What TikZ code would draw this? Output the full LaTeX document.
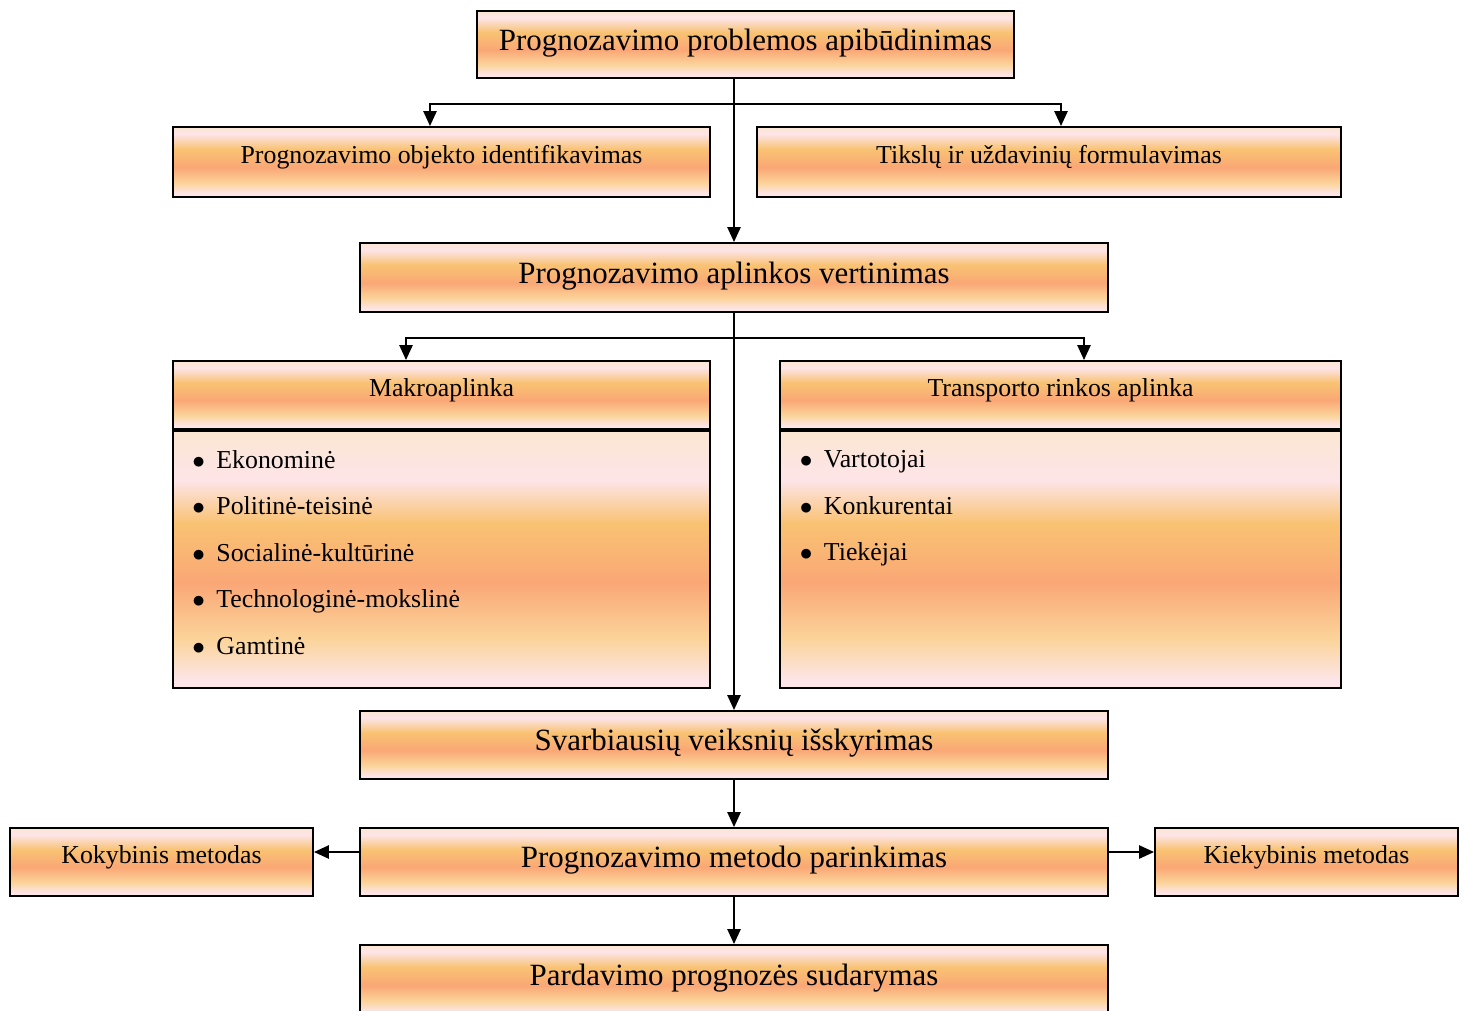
\documentclass[tikz,border=0pt]{standalone}
\usepackage{fontspec}
\setmainfont{Liberation Serif}
\usetikzlibrary{arrows.meta}
\definecolor{shpeach}{HTML}{FBE6D2}
\definecolor{shpink}{HTML}{FDE5E8}
\definecolor{shgold}{HTML}{F9C272}
\definecolor{shsalmon}{HTML}{FAA776}
\definecolor{shlight}{HTML}{FBD49A}
\pgfdeclareverticalshading{boxshade}{100bp}{color(0bp)=(shpink); color(27.5bp)=(shpink); color(35bp)=(shlight); color(46bp)=(shsalmon); color(59bp)=(shgold); color(70bp)=(shpink); color(75bp)=(shpeach); color(100bp)=(shpeach)}
\pgfdeclareverticalshading{listshade}{100bp}{color(0bp)=(shpink); color(26.5bp)=(shpink); color(34.5bp)=(shlight); color(45.5bp)=(shsalmon); color(57bp)=(shgold); color(65.5bp)=(shpink); color(75bp)=(shpeach); color(100bp)=(shpeach)}
\tikzstyle{block}=[draw=black, line width=1.1pt, shade, shading=boxshade, inner sep=0pt]
\tikzstyle{bigblock}=[block, font=\fontsize{17.6}{21}\selectfont, text height=12pt, text depth=5.6pt]
\tikzstyle{smallblock}=[block, font=\fontsize{14.7}{18}\selectfont, text height=10pt, text depth=8pt]
\tikzstyle{listblock}=[draw=black, line width=1.1pt, shade, shading=listshade, inner sep=0pt]
\tikzstyle{items}=[align=left, anchor=north west, inner sep=0pt, font=\fontsize{14.7}{26.5}\selectfont]
\tikzstyle{line}=[draw=black, line width=1.1pt]
\tikzstyle{link}=[line, -{Triangle[length=8.5pt,width=7.5pt]}]
\tikzstyle{twolink}=[line, {Triangle[length=8.5pt,width=7.5pt]}-{Triangle[length=8.5pt,width=7.5pt]}]
\newcommand{\bul}{\makebox[13.7pt][l]{$\bullet$}}

\begin{document}
\begin{tikzpicture}
    \useasboundingbox (0,0) rectangle (29.28,-20.2);

    % main chain
    \begin{scope}[every node/.style={bigblock}]
        \node[minimum width=10.74cm, minimum height=1.34cm] (apibud) at (14.91,-0.89) {Prognozavimo problemos apibūdinimas};
        \node[minimum width=14.96cm, minimum height=1.38cm] (aplinka) at (14.68,-5.55) {Prognozavimo aplinkos vertinimas};
        \node[minimum width=14.96cm, minimum height=1.36cm] (svarb) at (14.68,-14.90) {Svarbiausių veiksnių išskyrimas};
        \node[minimum width=14.96cm, minimum height=1.36cm] (parink) at (14.68,-17.24) {Prognozavimo metodo parinkimas};
        \node[minimum width=14.96cm, minimum height=1.40cm] (pardav) at (14.68,-19.60) {Pardavimo prognozės sudarymas};
    \end{scope}

    \begin{scope}[every node/.style={smallblock}]
        \node[minimum width=10.74cm, minimum height=1.40cm] (objektas) at (8.83,-3.24) {Prognozavimo objekto identifikavimas};
        \node[minimum width=11.68cm, minimum height=1.40cm] (tikslai) at (20.98,-3.24) {Tikslų ir uždavinių formulavimas};
        \node[minimum width=10.74cm, minimum height=1.36cm] (makro) at (8.83,-7.90) {Makroaplinka};
        \node[minimum width=11.22cm, minimum height=1.36cm] (transp) at (21.21,-7.90) {Transporto rinkos aplinka};
        \node[minimum width=6.06cm, minimum height=1.36cm] (kokyb) at (3.23,-17.24) {Kokybinis metodas};
        \node[minimum width=6.06cm, minimum height=1.36cm] (kiekyb) at (26.13,-17.24) {Kiekybinis metodas};
    \end{scope}

    % lists
    \node[listblock, minimum width=10.74cm, minimum height=5.14cm] (makrolist) at (8.83,-11.19) {};
    \node[listblock, minimum width=11.22cm, minimum height=5.14cm] (transplist) at (21.21,-11.19) {};
    \node[items] (makroitems) at (3.84,-9.0) {\bul Ekonominė\\ \bul Politinė-teisinė\\ \bul Socialinė-kultūrinė\\ \bul Technologinė-mokslinė\\ \bul Gamtinė};
    \node[items] (transpitems) at (15.99,-9.0) {\bul Vartotojai\\ \bul Konkurentai\\ \bul Tiekėjai};

    % connectors
    \coordinate (busa) at (8.60,-2.08);
    \coordinate (busb) at (21.22,-2.08);
    \coordinate (busc) at (8.12,-6.76);
    \coordinate (busd) at (21.68,-6.76);
    \coordinate (side) at (14.68,-17.04);
    \path[link] (aplinka.north |- apibud.south) -- (aplinka.north);
    \path[twolink] (busa |- objektas.north) -- (busa) -- (busb) -- (busb |- tikslai.north);
    \path[link] (aplinka.south) -- (svarb.north);
    \path[twolink] (busc |- makro.north) -- (busc) -- (busd) -- (busd |- transp.north);
    \path[link] (svarb.south) -- (parink.north);
    \path[link] (parink.south) -- (pardav.north);
    \path[link] (parink.west |- side) -- (kokyb.east |- side);
    \path[link] (parink.east |- side) -- (kiekyb.west |- side);
\end{tikzpicture}
\end{document}
